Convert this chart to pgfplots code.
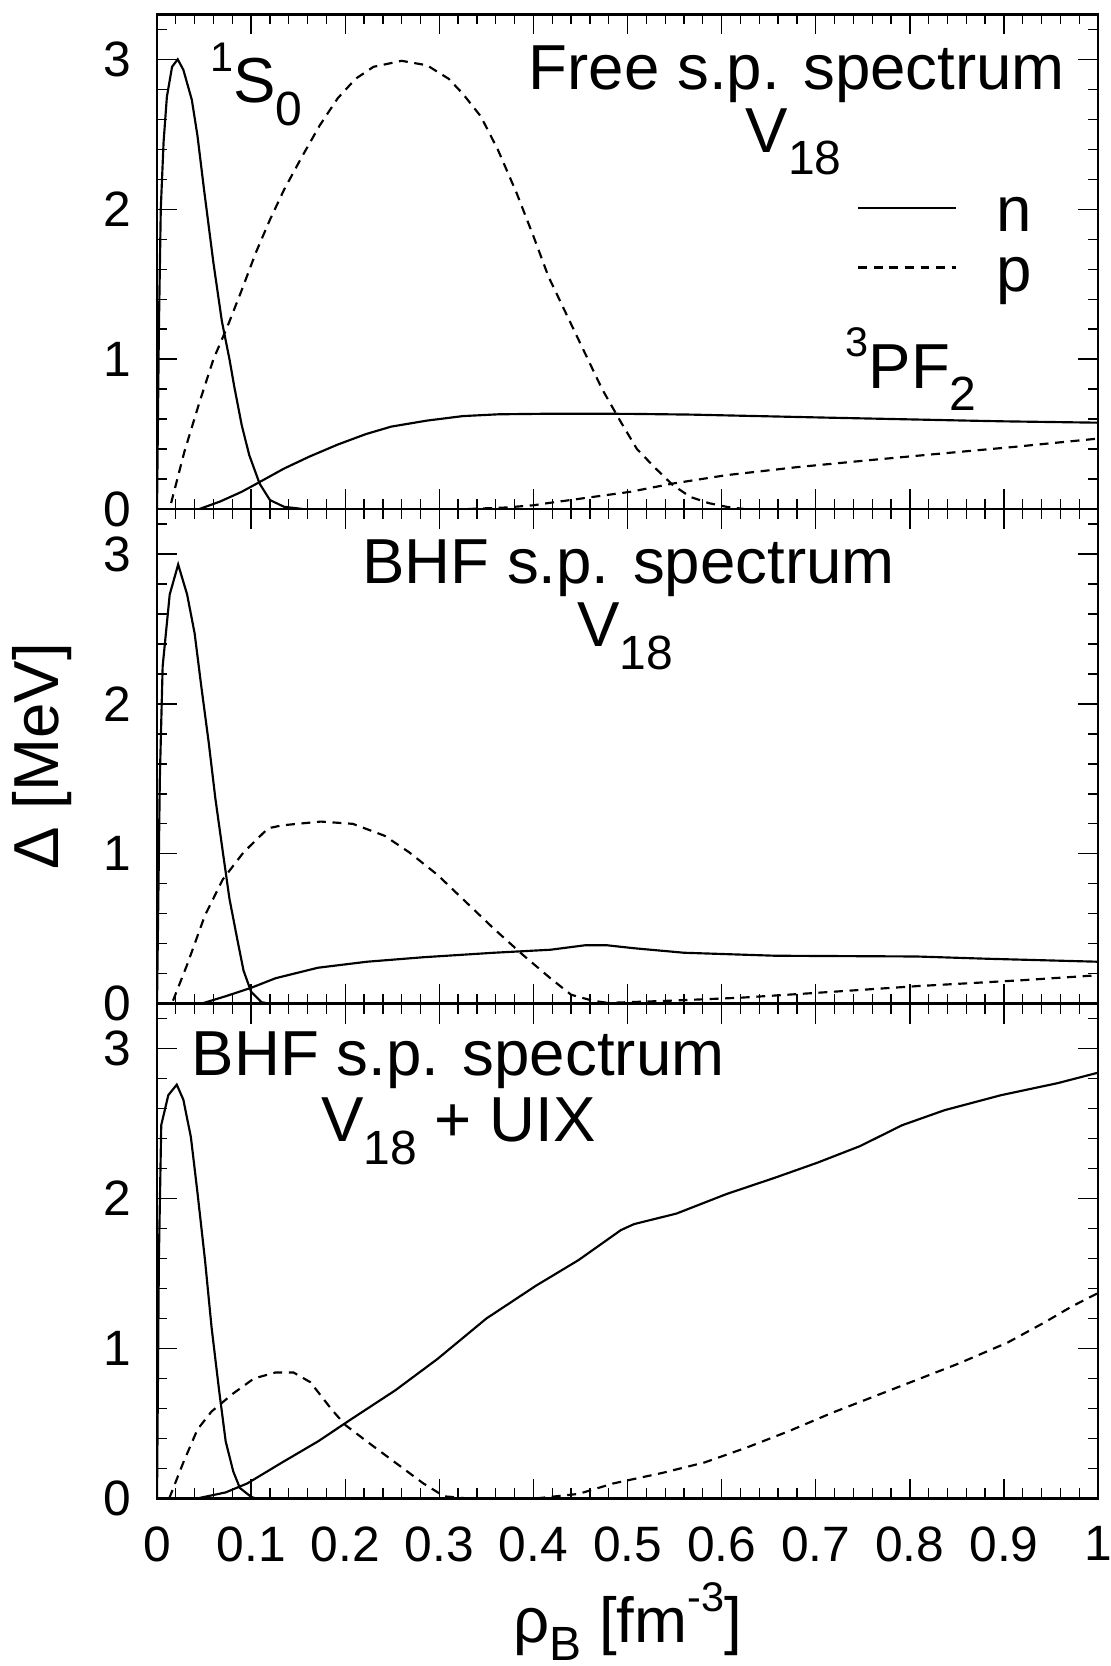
\documentclass[border=0pt]{standalone}
\usepackage{fontspec}
\setmainfont{Liberation Sans}
\usepackage{pgfplots}
\pgfplotsset{compat=1.18}
\newcommand{\bigf}{\fontsize{19.2}{19.2}\selectfont}
\newcommand{\sups}[1]{\raisebox{9.5pt}{\fontsize{12.5}{12.5}\selectfont #1}}
\newcommand{\subs}[1]{\raisebox{-6.8pt}{\fontsize{14.5}{14.5}\selectfont #1}}
\pgfplotsset{panel/.style={
  scale only axis, width=284.1pt, height=149.34pt,
  xmin=0, xmax=1, ymin=0, ymax=3.3,
  xtick={0,0.1,0.2,0.3,0.4,0.5,0.6,0.7,0.8,0.9,1},
  minor xtick={0,0.02,...,1},
  ytick={0,1,2,3},
  minor ytick={0.2,0.4,0.6,0.8,1.2,1.4,1.6,1.8,2.2,2.4,2.6,2.8,3.2},
  tick align=inside,
  major tick length=6pt, minor tick length=3pt,
  axis line style={line width=0.8pt},
  every tick/.append style={line width=0.4pt, black},
  tick label style={font=\fontsize{15}{15}\selectfont},
  yticklabel style={inner sep=0pt, xshift=-7.7pt},
  xticklabel style={inner sep=0pt, yshift=-8.3pt},
  /pgf/number format/assume math mode=true,
  every axis plot/.append style={line width=0.65pt, black},
  sld/.style={black, solid, no markers},
  dsh/.style={black, no markers, dash pattern=on 2.7pt off 2pt},
}}
\begin{document}
\begin{tikzpicture}
% ---------------- top panel ----------------
\begin{axis}[panel, at={(0pt,298.68pt)}, anchor=south west, xticklabel=\empty,
  legend image code/.code={\draw[#1] (0pt,7.2pt) -- (29.4pt,7.2pt);},
  legend style={draw=none, fill=none, inner sep=0pt, outer sep=0pt,
    row sep=0pt, column sep=12pt, font=\bigf,
    cells={anchor=base west},
    nodes={inner sep=0pt, text height=13pt, text depth=5pt},
    at={(axis cs:0.744,2.137)}, anchor=north west}]
\addplot[sld] coordinates {(0,0) (0.002,1.2) (0.004,2.0) (0.007,2.45) (0.0105,2.75) (0.016,2.95) (0.022,3.0) (0.028,2.93) (0.037,2.73) (0.043,2.49) (0.050,2.13) (0.060,1.64) (0.069,1.25) (0.077,1.0) (0.082,0.82) (0.090,0.56) (0.098,0.36) (0.109,0.17) (0.120,0.06) (0.135,0.015) (0.155,0)};
\addlegendentry{n}
\addplot[dsh] coordinates {(0.015,0.04) (0.029,0.38) (0.045,0.71) (0.060,1.0) (0.075,1.22) (0.090,1.46) (0.105,1.71) (0.120,1.93) (0.135,2.13) (0.154,2.35) (0.173,2.56) (0.192,2.74) (0.211,2.87) (0.230,2.95) (0.260,2.99) (0.287,2.96) (0.310,2.87) (0.325,2.77) (0.344,2.62) (0.362,2.40) (0.382,2.11) (0.400,1.82) (0.416,1.55) (0.435,1.30) (0.454,1.05) (0.473,0.80) (0.492,0.59) (0.510,0.40) (0.530,0.27) (0.548,0.16) (0.567,0.08) (0.586,0.04) (0.605,0.015) (0.624,0)};
\addlegendentry{p}
\addplot[sld] coordinates {(0.045,0) (0.067,0.05) (0.090,0.115) (0.109,0.18) (0.135,0.27) (0.162,0.35) (0.192,0.43) (0.222,0.50) (0.249,0.55) (0.287,0.59) (0.325,0.62) (0.363,0.632) (0.42,0.636) (0.50,0.635) (0.567,0.63) (0.71,0.61) (0.86,0.59) (0.9,0.585) (1.0,0.576)};
\addplot[dsh] coordinates {(0.33,0) (0.37,0.01) (0.40,0.025) (0.416,0.04) (0.503,0.115) (0.548,0.17) (0.605,0.226) (0.681,0.28) (0.757,0.326) (0.833,0.37) (0.91,0.414) (1.0,0.47)};
\node[anchor=base west, inner sep=0pt, font=\bigf] at (axis cs:0.056,2.71) {\sups{1}S\subs{0}};
\node[anchor=base, inner sep=0pt, font=\bigf] at (axis cs:0.680,2.80) {Free s.p. spectrum};
\node[anchor=base west, inner sep=0pt, font=\bigf] at (axis cs:0.625,2.38) {V\subs{18}};
\node[anchor=base west, inner sep=0pt, font=\bigf] at (axis cs:0.731,0.807) {\sups{3}PF\subs{2}};
\end{axis}
% ---------------- middle panel ----------------
\begin{axis}[panel, at={(0pt,149.34pt)}, anchor=south west, xticklabel=\empty,
  ylabel={Δ [MeV]},
  ylabel style={at={(axis description cs:-0.1225,0.5)}, anchor=center, inner sep=0pt, font=\bigf}]
\addplot[sld] coordinates {(0,0) (0.003,1.5) (0.006,2.25) (0.0135,2.73) (0.0225,2.93) (0.032,2.73) (0.040,2.47) (0.047,2.12) (0.055,1.74) (0.062,1.37) (0.070,1.01) (0.077,0.70) (0.085,0.44) (0.092,0.22) (0.100,0.08) (0.111,0.01) (0.12,0)};
\addplot[dsh] coordinates {(0.017,0.02) (0.032,0.26) (0.051,0.59) (0.07,0.83) (0.092,1.01) (0.118,1.17) (0.133,1.19) (0.174,1.215) (0.208,1.20) (0.242,1.12) (0.268,1.01) (0.298,0.86) (0.328,0.68) (0.358,0.50) (0.388,0.33) (0.418,0.17) (0.44,0.06) (0.463,0.02) (0.485,0)};
\addplot[sld] coordinates {(0.047,0) (0.073,0.05) (0.10,0.106) (0.126,0.17) (0.171,0.24) (0.223,0.28) (0.283,0.31) (0.358,0.34) (0.418,0.36) (0.455,0.39) (0.478,0.39) (0.507,0.37) (0.56,0.34) (0.657,0.32) (0.807,0.315) (0.882,0.30) (1.0,0.28)};
\addplot[dsh] coordinates {(0.455,0) (0.545,0.02) (0.62,0.04) (0.695,0.07) (0.807,0.117) (0.92,0.157) (1.0,0.19)};
\node[anchor=base, inner sep=0pt, font=\bigf] at (axis cs:0.501,2.80) {BHF s.p. spectrum};
\node[anchor=base west, inner sep=0pt, font=\bigf] at (axis cs:0.446,2.38) {V\subs{18}};
\end{axis}
% ---------------- bottom panel ----------------
\begin{axis}[panel, at={(0pt,0pt)}, anchor=south west,
  xlabel={ρ\raisebox{-5.5pt}{\fontsize{14.5}{14.5}\selectfont B} [fm\sups{-3}]},
  xlabel style={at={(axis description cs:0.5,0)}, anchor=base, yshift=-43.5pt, inner sep=0pt, font=\bigf}]
\addplot[sld] coordinates {(0,0) (0.002,1.6) (0.0045,2.49) (0.012,2.69) (0.021,2.76) (0.028,2.66) (0.036,2.41) (0.043,2.04) (0.051,1.59) (0.058,1.14) (0.066,0.72) (0.073,0.38) (0.081,0.18) (0.088,0.07) (0.10,0.01) (0.105,0)};
\addplot[dsh] coordinates {(0.013,0) (0.028,0.24) (0.043,0.46) (0.058,0.58) (0.081,0.70) (0.103,0.80) (0.126,0.84) (0.145,0.84) (0.163,0.775) (0.186,0.59) (0.20,0.49) (0.223,0.38) (0.253,0.24) (0.283,0.10) (0.305,0.014) (0.33,0)};
\addplot[sld] coordinates {(0.043,0) (0.073,0.04) (0.096,0.1) (0.133,0.24) (0.171,0.38) (0.208,0.535) (0.253,0.72) (0.298,0.93) (0.350,1.20) (0.403,1.42) (0.448,1.59) (0.493,1.79) (0.507,1.83) (0.552,1.90) (0.605,2.03) (0.657,2.14) (0.702,2.24) (0.747,2.35) (0.792,2.49) (0.837,2.59) (0.897,2.69) (0.957,2.77) (1.0,2.84)};
\addplot[dsh] coordinates {(0.403,0) (0.448,0.03) (0.485,0.1) (0.537,0.17) (0.582,0.24) (0.627,0.34) (0.672,0.45) (0.717,0.57) (0.762,0.68) (0.807,0.79) (0.852,0.90) (0.904,1.04) (0.942,1.17) (0.972,1.28) (1.0,1.37)};
\node[anchor=base, inner sep=0pt, font=\bigf] at (axis cs:0.32,2.82) {BHF s.p. spectrum};
\node[anchor=base west, inner sep=0pt, font=\bigf] at (axis cs:0.174,2.38) {V\subs{18} + UIX};
\end{axis}
\pgfresetboundingbox
\path[use as bounding box] (-47.4pt,-50.6pt) rectangle (288pt,452.36pt);
\end{tikzpicture}
\end{document}
